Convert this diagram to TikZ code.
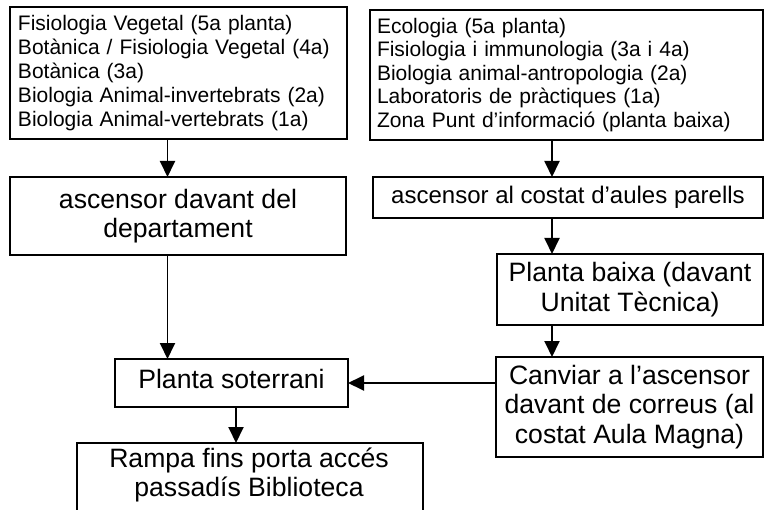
\documentclass[tikz,border=0pt]{standalone}
\usepackage{fontspec}
\setmainfont{Liberation Sans}
\usetikzlibrary{arrows.meta}
\begin{document}
\begin{tikzpicture}[x=1bp,y=-1bp,
  box/.style={draw, line width=1.9bp, inner sep=0pt, outer sep=0pt},
  smalltxt/.style={font=\fontsize{21bp}{24bp}\selectfont, align=left},
  smalltxtb/.style={font=\fontsize{21bp}{23.5bp}\selectfont, align=left},
  bigtxt/.style={font=\fontsize{26.6bp}{29.5bp}\selectfont, align=center},
  midtxt/.style={font=\fontsize{24bp}{28bp}\selectfont, align=center},
  arr/.style={-{Triangle[length=16bp,width=15bp]}, line width=1.9bp}]
\useasboundingbox (0,0) rectangle (765,510);
\clip (0,0) rectangle (765,510);

% column coordinates
\coordinate (lx) at (167.5,0);
\coordinate (mx) at (236,0);
\coordinate (rx) at (552,0);
\coordinate (hy) at (0,383);

% top boxes
\node[box, smalltxt, inner xsep=8bp, text width=321bp, minimum height=132bp] (A) at (178.5,73)
  {Fisiologia Vegetal (5a planta)\\
   Botànica / Fisiologia Vegetal (4a)\\
   Botànica (3a)\\
   Biologia Animal-invertebrats (2a)\\
   Biologia Animal-vertebrats (1a)};
\node[box, smalltxtb, inner xsep=7bp, text width=379bp, minimum height=130bp] (B) at (566.5,75)
  {Ecologia (5a planta)\\
   Fisiologia i immunologia (3a i 4a)\\
   Biologia animal-antropologia (2a)\\
   Laboratoris de pràctiques (1a)\\
   Zona Punt d’informació (planta baixa)};

% left column
\node[box, bigtxt, minimum width=336bp, minimum height=78bp] (asc1) at (178,216)
  {ascensor davant del\\departament};
\node[box, bigtxt, minimum width=233bp, minimum height=48bp, text height=18bp, text depth=7bp] (sot) at (231.5,383)
  {Planta soterrani};
\node[box, minimum width=346bp, minimum height=80bp, anchor=north] (rampa) at (250,443) {};
\node[bigtxt] (rampatext) at (249,475) {Rampa fins porta accés\\passadís Biblioteca};

% right column
\node[box, midtxt, minimum width=390bp, minimum height=41bp, text height=17.5bp, text depth=5bp] (asc2) at (568,197.5)
  {ascensor al costat d’aules parells};
\node[box, bigtxt, minimum width=266bp, minimum height=71bp] (pb) at (630,289.5)
  {Planta baixa (davant\\Unitat Tècnica)};
\node[box, bigtxt, minimum width=267bp, minimum height=100bp] (canv) at (629.5,407)
  {Canviar a l’ascensor\\davant de correus (al\\costat Aula Magna)};

% connectors
\draw[arr] (A.south -| lx) -- (asc1.north -| lx);
\draw[arr] (asc1.south -| lx) -- (sot.north -| lx);
\draw[arr] (sot.south -| mx) -- (rampa.north -| mx);
\draw[arr] (B.south -| rx) -- (asc2.north -| rx);
\draw[arr] (asc2.south -| rx) -- (pb.north -| rx);
\draw[arr] (pb.south -| rx) -- (canv.north -| rx);
\draw[arr] (canv.west |- hy) -- (sot.east |- hy);
\end{tikzpicture}
\end{document}
